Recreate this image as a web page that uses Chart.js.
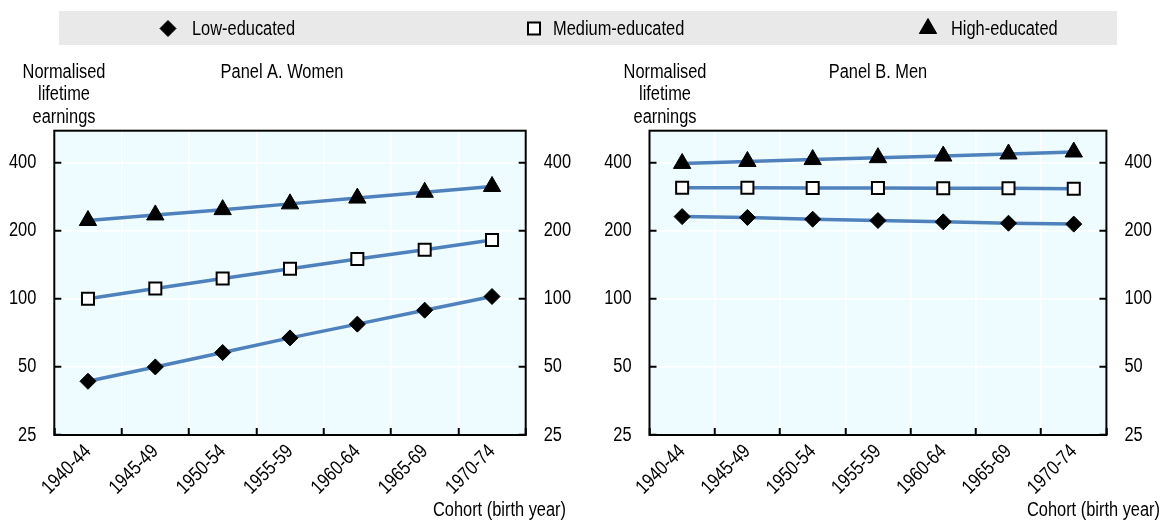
<!DOCTYPE html>
<html>
<head>
<meta charset="utf-8">
<script src="https://cdn.jsdelivr.net/npm/chart.js@4.4.1/dist/chart.umd.min.js"></script>
<style>
  html, body { margin: 0; padding: 0; background: #ffffff; }
  #wrap { position: relative; width: 1163px; height: 521px; overflow: hidden; }
  #wrap canvas { position: absolute; left: 0; top: 0; }
</style>
</head>
<body>
<div id="wrap">
  <canvas id="women" width="1163" height="521"></canvas>
  <canvas id="men" width="1163" height="521"></canvas>
</div>
<script>
// Birth cohorts on the category axis
const cohorts = ['1940-44', '1945-49', '1950-54', '1955-59', '1960-64', '1965-69', '1970-74'];

// Log-scale ticks shown on both vertical axes
const yTickValues = [25, 50, 100, 200, 400];

// Normalised lifetime earnings, women
const womenLow = [43.2, 50, 57.9, 67.2, 77.3, 89.1, 102.4];
const womenMedium = [100, 111, 123, 136, 150, 165, 182];
const womenHigh = [222, 235, 248, 263, 279, 296, 314];

// Normalised lifetime earnings, men
const menLow = [231, 229, 225, 222, 219, 216, 214];
const menMedium = [310, 310, 309, 309, 308, 308, 307];
const menHigh = [397, 405, 413, 421, 428, 437, 446];

const seriesNames = ['Low-educated', 'Medium-educated', 'High-educated'];
const yAxisTitle = ['Normalised', 'lifetime', 'earnings'];
const xAxisTitle = 'Cohort (birth year)';

const FONT = "'Liberation Sans', Arial, sans-serif";
const NARROW = 0.82;            // horizontal squeeze giving an Arial-Narrow look
const LINE_COLOR = '#4f81bd';
const PLOT_BG = '#effcff';

Chart.defaults.font.family = FONT;
Chart.defaults.color = '#000';

// Draw every string on a context horizontally condensed around its anchor point
function condenseText(ctx, factor) {
  const fill = ctx.fillText.bind(ctx);
  const measure = ctx.measureText.bind(ctx);
  ctx.fillText = function (text, x, y) {
    ctx.save();
    ctx.translate(x, y);
    ctx.scale(factor, 1);
    fill(text, 0, 0);
    ctx.restore();
  };
  ctx.measureText = function (text) {
    const m = measure(text);
    return {
      width: m.width * factor,
      actualBoundingBoxAscent: m.actualBoundingBoxAscent,
      actualBoundingBoxDescent: m.actualBoundingBoxDescent,
      actualBoundingBoxLeft: m.actualBoundingBoxLeft * factor,
      actualBoundingBoxRight: m.actualBoundingBoxRight * factor,
      fontBoundingBoxAscent: m.fontBoundingBoxAscent,
      fontBoundingBoxDescent: m.fontBoundingBoxDescent
    };
  };
}

// Marker look per education level
const markers = [
  { pointStyle: 'rectRot', radius: 8, fill: '#000', border: '#000', borderWidth: 1 },
  { pointStyle: 'rect', radius: 8.5, fill: '#fff', border: '#000', borderWidth: 2 },
  { pointStyle: 'triangle', radius: 10, fill: '#000', border: '#000', borderWidth: 1 }
];

function drawMarker(ctx, m, x, y) {
  ctx.save();
  ctx.fillStyle = m.fill;
  ctx.strokeStyle = m.border;
  ctx.lineWidth = m.borderWidth;
  Chart.helpers.drawPoint(ctx, { pointStyle: m.pointStyle, radius: m.radius, rotation: 0, borderWidth: m.borderWidth }, x, y);
  ctx.restore();
}

// Plot background, frame, titles and the shared legend strip
const panelDecor = {
  id: 'panelDecor',
  beforeDraw(chart) {
    const { ctx, chartArea: a } = chart;
    ctx.save();
    ctx.fillStyle = PLOT_BG;
    ctx.fillRect(a.left, a.top, a.right - a.left, a.bottom - a.top);
    ctx.restore();
  },
  beforeDatasetsDraw(chart) {
    const { ctx, chartArea: a } = chart;
    ctx.save();
    ctx.strokeStyle = '#000';
    ctx.lineWidth = 2;
    ctx.strokeRect(a.left, a.top, a.right - a.left, a.bottom - a.top);
    ctx.restore();
  },
  afterDraw(chart, args, opts) {
    const ctx = chart.ctx;
    ctx.save();
    ctx.fillStyle = '#000';
    ctx.font = '20px ' + FONT;
    ctx.textBaseline = 'middle';

    // vertical axis title, three centred lines
    ctx.textAlign = 'center';
    yAxisTitle.forEach((t, i) => ctx.fillText(t, opts.yTitleX, 72 + i * 22.5));

    // panel title
    ctx.fillText(opts.title, opts.titleX, 72);

    // horizontal axis title
    ctx.textAlign = 'right';
    ctx.fillText(xAxisTitle, opts.xTitleRight, 510);

    if (opts.legend) {
      ctx.fillStyle = '#e9e9e9';
      ctx.fillRect(59, 11, 1058, 34);
      const markerX = [168, 534, 928];
      const textX = [192, 553, 951];
      ctx.textAlign = 'left';
      seriesNames.forEach((name, i) => {
        drawMarker(ctx, markers[i], markerX[i], 28.5);
        ctx.fillStyle = '#000';
        ctx.fillText(name, textX[i], 29.5);
      });
    }
    ctx.restore();
  }
};

function gridOpts(onArea) {
  return {
    display: true,
    drawOnChartArea: onArea,
    color: '#ffffff',
    lineWidth: 1.5,
    tickColor: '#000',
    tickWidth: 2,
    tickLength: -7
  };
}

function logAxis(position, width, onArea) {
  return {
    type: 'logarithmic',
    position: position,
    min: 25,
    max: 554,
    afterBuildTicks(scale) { scale.ticks = yTickValues.map(v => ({ value: v })); },
    afterFit(scale) { scale.width = width; },
    ticks: { callback: v => String(v), padding: 25, font: { size: 20 }, color: '#000' },
    grid: gridOpts(onArea),
    border: { display: false }
  };
}

function buildPanel(id, series, panel) {
  const canvas = document.getElementById(id);
  condenseText(canvas.getContext('2d'), NARROW);

  const datasets = series.map((vals, i) => ({
    label: seriesNames[i],
    data: vals,
    borderColor: LINE_COLOR,
    borderWidth: 3.5,
    tension: 0,
    pointStyle: markers[i].pointStyle,
    pointRadius: markers[i].radius,
    pointHoverRadius: markers[i].radius,
    pointBackgroundColor: markers[i].fill,
    pointBorderColor: markers[i].border,
    pointBorderWidth: markers[i].borderWidth,
    clip: false
  }));

  return new Chart(canvas, {
    type: 'line',
    data: { labels: cohorts, datasets: datasets },
    options: {
      responsive: false,
      animation: false,
      devicePixelRatio: 1,
      events: [],
      layout: { padding: { left: panel.padLeft, right: panel.padRight, top: 130.7, bottom: 0 } },
      plugins: {
        legend: { display: false },
        tooltip: { enabled: false },
        panelDecor: panel.decor
      },
      scales: {
        x: {
          type: 'category',
          offset: true,
          grid: Object.assign(gridOpts(true), { offset: true }),
          border: { display: false },
          ticks: { minRotation: 45, maxRotation: 45, autoSkip: false, padding: 12, font: { size: 20 }, color: '#000' },
          afterFit(scale) { scale.height = 86; }
        },
        y: logAxis('left', panel.yWidth, true),
        y2: logAxis('right', panel.y2Width, false)
      }
    },
    plugins: [panelDecor]
  });
}

buildPanel('women', [womenLow, womenMedium, womenHigh], {
  padLeft: 0, yWidth: 54.3, y2Width: 60, padRight: 577.3,
  decor: { legend: true, title: 'Panel A. Women', titleX: 282, yTitleX: 64, xTitleRight: 566 }
});

buildPanel('men', [menLow, menMedium, menHigh], {
  padLeft: 595.5, yWidth: 54, y2Width: 56.6, padRight: 0,
  decor: { legend: false, title: 'Panel B. Men', titleX: 878, yTitleX: 665, xTitleRight: 1160 }
});
</script>
</body>
</html>
